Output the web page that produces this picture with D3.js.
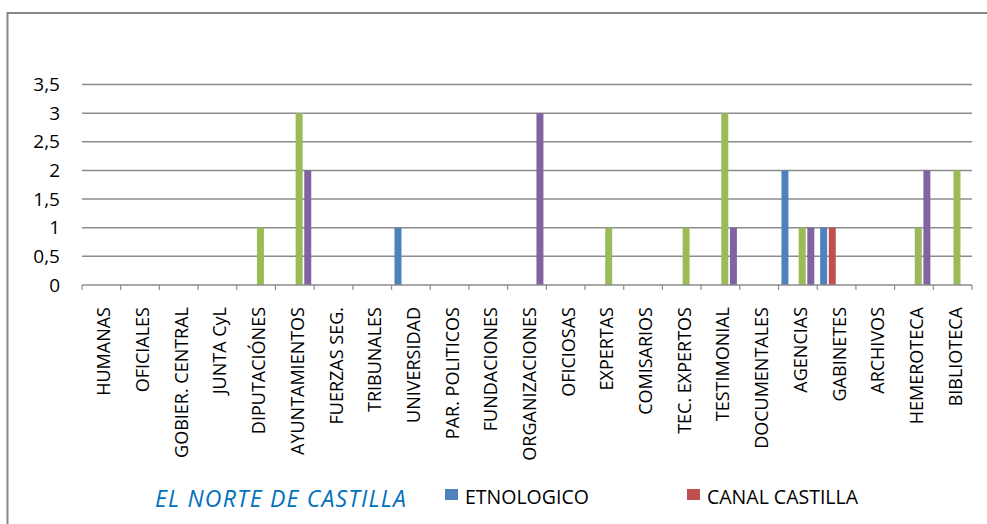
<!DOCTYPE html>
<html>
<head>
<meta charset="utf-8">
<script src="https://cdn.jsdelivr.net/npm/d3@7"></script>
<style>
  body { margin: 0; background: #fff; }
  svg { display: block; font-family: "Open Sans", sans-serif; }
</style>
</head>
<body>
<div id="chart"></div>
<script>
// categories and series values
var categories = ["HUMANAS", "OFICIALES", "GOBIER. CENTRAL", "JUNTA CyL", "DIPUTACIÓNES",
  "AYUNTAMIENTOS", "FUERZAS SEG.", "TRIBUNALES", "UNIVERSIDAD", "PAR. POLITICOS",
  "FUNDACIONES", "ORGANIZACIONES", "OFICIOSAS", "EXPERTAS", "COMISARIOS",
  "TEC. EXPERTOS", "TESTIMONIAL", "DOCUMENTALES", "AGENCIAS", "GABINETES",
  "ARCHIVOS", "HEMEROTECA", "BIBLIOTECA"];

var etnologico    = [0,0,0,0,0, 0,0,0,1,0, 0,0,0,0,0, 0,0,0,2,1, 0,0,0];
var canalCastilla = [0,0,0,0,0, 0,0,0,0,0, 0,0,0,0,0, 0,0,0,0,1, 0,0,0];
var serie3        = [0,0,0,0,1, 3,0,0,0,0, 0,0,0,1,0, 1,3,0,1,0, 0,1,2];
var serie4        = [0,0,0,0,0, 2,0,0,0,0, 0,3,0,0,0, 0,1,0,1,0, 0,2,0];

var seriesNames = ["ETNOLOGICO", "CANAL CASTILLA", "SERIE 3", "SERIE 4"];
var yTicks = [0, 0.5, 1, 1.5, 2, 2.5, 3, 3.5];
var chartTitle = "EL NORTE DE CASTILLA";

var seriesValues = [etnologico, canalCastilla, serie3, serie4];
var colors = ["#4F81BD", "#C0504D", "#9BBB59", "#8064A2"];

var width = 987, height = 524;
var margin = {top: 84.5, left: 82, right: 15, bottom: 239};

var svg = d3.select("#chart").append("svg")
    .attr("width", width)
    .attr("height", height);

// outer frame (runs off the right and bottom edges)
svg.append("rect")
    .attr("x", 7.5).attr("y", 13)
    .attr("width", 1100).attr("height", 700)
    .attr("fill", "none")
    .attr("stroke", "#878787")
    .attr("stroke-width", 2);

var x0 = d3.scaleBand()
    .domain(categories)
    .range([margin.left, width - margin.right])
    .padding(0);

var x1 = d3.scaleBand()
    .domain(d3.range(seriesNames.length))
    .range([0, x0.bandwidth()])
    .paddingInner(0.19)
    .paddingOuter(0.34);

var y = d3.scaleLinear()
    .domain([0, 3.5])
    .range([285, 84.5]);

var fmt = function(d) { return String(d).replace(".", ","); };

// gridlines
svg.append("g")
    .selectAll("line")
    .data(yTicks.slice(1))
    .enter().append("line")
    .attr("x1", x0.range()[0]).attr("x2", x0.range()[1])
    .attr("y1", function(d) { return y(d); })
    .attr("y2", function(d) { return y(d); })
    .attr("stroke", "#8c8c8c")
    .attr("stroke-width", 1.5);

// y axis labels
var yAxis = svg.append("g")
    .attr("transform", "translate(" + margin.left + ",0)")
    .call(d3.axisLeft(y).tickValues(yTicks).tickFormat(fmt).tickSize(0).tickPadding(22));
yAxis.select(".domain").remove();
yAxis.selectAll("text")
    .attr("font-family", "Open Sans, sans-serif")
    .attr("font-size", 19)
    .attr("fill", "#000");

// bars
var groups = svg.append("g")
    .selectAll("g")
    .data(categories)
    .enter().append("g")
    .attr("transform", function(d) { return "translate(" + x0(d) + ",0)"; });

groups.selectAll("rect")
    .data(function(d, i) {
      return seriesValues.map(function(vals, s) { return {s: s, v: vals[i]}; });
    })
    .enter().append("rect")
    .filter(function(d) { return d.v > 0; })
    .attr("x", function(d) { return x1(d.s); })
    .attr("width", x1.bandwidth())
    .attr("y", function(d) { return y(d.v); })
    .attr("height", function(d) { return y(0) - y(d.v); })
    .attr("fill", function(d) { return colors[d.s]; });

// base axis line and tick marks between categories
svg.append("line")
    .attr("x1", x0.range()[0]).attr("x2", x0.range()[1])
    .attr("y1", y(0)).attr("y2", y(0))
    .attr("stroke", "#8c8c8c")
    .attr("stroke-width", 1.5);

var bounds = categories.map(function(c) { return x0(c); }).concat([x0.range()[1]]);
svg.append("g")
    .selectAll("line")
    .data(bounds)
    .enter().append("line")
    .attr("x1", function(d) { return d; }).attr("x2", function(d) { return d; })
    .attr("y1", y(0)).attr("y2", y(0) + 5)
    .attr("stroke", "#8c8c8c")
    .attr("stroke-width", 1.2);

// rotated category labels
svg.append("g")
    .selectAll("text")
    .data(categories)
    .enter().append("text")
    .attr("transform", function(d) {
      return "translate(" + (x0(d) + x0.bandwidth() / 2 + 9) + ",307) rotate(-90)";
    })
    .attr("text-anchor", "end")
    .attr("font-size", 18)
    .attr("fill", "#000")
    .text(function(d) { return d; });

// title in the legend row
svg.append("text")
    .attr("x", 155).attr("y", 507)
    .attr("font-size", 23)
    .attr("letter-spacing", 1.2)
    .attr("font-style", "italic")
    .attr("fill", "#0070C0")
    .text(chartTitle);

// legend (only the first two entries fit in the picture)
var legendX = [445, 687];
var legend = svg.append("g")
    .selectAll("g")
    .data(seriesNames.slice(0, 2))
    .enter().append("g")
    .attr("transform", function(d, i) { return "translate(" + legendX[i] + ",489)"; });

legend.append("rect")
    .attr("width", 13).attr("height", 11)
    .attr("fill", function(d, i) { return colors[i]; });

legend.append("text")
    .attr("x", 20).attr("y", 14.5)
    .attr("font-size", 19.5)
    .attr("fill", "#000")
    .text(function(d) { return d; });
</script>
</body>
</html>
